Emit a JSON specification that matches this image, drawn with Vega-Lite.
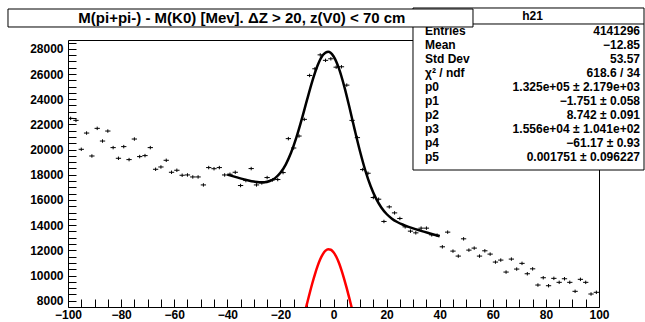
{
  "$schema": "https://vega.github.io/schema/vega-lite/v6.json",
  "width": 531,
  "height": 267,
  "autosize": {"type": "none"},
  "padding": {"left": 68, "top": 40, "right": 46, "bottom": 15},
  "background": "white",
  "config": {"view": {"stroke": "#000", "strokeWidth": 1}, "font": "Liberation Sans"},
  "datasets": {
    "points": [
      {"x": -99, "y": 22477}, {"x": -97, "y": 22319}, {"x": -95, "y": 20021}, {"x": -93, "y": 21312},
      {"x": -91, "y": 19490}, {"x": -89, "y": 21685}, {"x": -87, "y": 20678}, {"x": -85, "y": 21471},
      {"x": -83, "y": 20155}, {"x": -81, "y": 19308}, {"x": -79, "y": 20235}, {"x": -77, "y": 19204},
      {"x": -75, "y": 20837}, {"x": -73, "y": 19442}, {"x": -71, "y": 19521}, {"x": -69, "y": 20155},
      {"x": -67, "y": 18436}, {"x": -65, "y": 18618}, {"x": -63, "y": 19149}, {"x": -61, "y": 18198},
      {"x": -59, "y": 18357}, {"x": -57, "y": 17960}, {"x": -55, "y": 17985}, {"x": -53, "y": 17826},
      {"x": -51, "y": 17826}, {"x": -49, "y": 17192}, {"x": -47, "y": 18570}, {"x": -45, "y": 18480},
      {"x": -43, "y": 18570}, {"x": -41, "y": 17984}, {"x": -39, "y": 18040}, {"x": -37, "y": 18198},
      {"x": -35, "y": 17144}, {"x": -33, "y": 17540}, {"x": -31, "y": 18491}, {"x": -29, "y": 17192},
      {"x": -27, "y": 17350}, {"x": -25, "y": 17778}, {"x": -23, "y": 17588}, {"x": -21, "y": 17620},
      {"x": -19, "y": 18174}, {"x": -17, "y": 20868}, {"x": -15, "y": 20124}, {"x": -13, "y": 21075},
      {"x": -11, "y": 22398}, {"x": -9, "y": 25884}, {"x": -7, "y": 26415}, {"x": -5, "y": 27520},
      {"x": -3, "y": 27085}, {"x": -1, "y": 27208}, {"x": 1, "y": 26542}, {"x": 3, "y": 26574},
      {"x": 5, "y": 25116}, {"x": 7, "y": 22319}, {"x": 9, "y": 20948}, {"x": 11, "y": 18412},
      {"x": 13, "y": 18119}, {"x": 15, "y": 16193}, {"x": 17, "y": 16059}, {"x": 19, "y": 14292},
      {"x": 21, "y": 15449}, {"x": 23, "y": 14973}, {"x": 25, "y": 14529}, {"x": 27, "y": 13864},
      {"x": 29, "y": 13523}, {"x": 31, "y": 13388}, {"x": 33, "y": 13761}, {"x": 35, "y": 13761},
      {"x": 37, "y": 13230}, {"x": 39, "y": 13206}, {"x": 41, "y": 12279}, {"x": 43, "y": 13444},
      {"x": 45, "y": 11938}, {"x": 47, "y": 11542}, {"x": 49, "y": 12913}, {"x": 51, "y": 12017},
      {"x": 53, "y": 12176}, {"x": 55, "y": 11542}, {"x": 57, "y": 11962}, {"x": 59, "y": 11700},
      {"x": 61, "y": 11067}, {"x": 63, "y": 11225}, {"x": 65, "y": 10274}, {"x": 67, "y": 11304},
      {"x": 69, "y": 10512}, {"x": 71, "y": 10964}, {"x": 73, "y": 10139}, {"x": 75, "y": 10530},
      {"x": 77, "y": 9244}, {"x": 79, "y": 9823}, {"x": 81, "y": 9189}, {"x": 83, "y": 9775},
      {"x": 85, "y": 9458}, {"x": 87, "y": 9743}, {"x": 89, "y": 9458}, {"x": 91, "y": 8745},
      {"x": 93, "y": 9696}, {"x": 95, "y": 9458}, {"x": 97, "y": 8531}, {"x": 99, "y": 8666}
    ],
    "fit": [
      {"x": -40, "y": 18010}, {"x": -38, "y": 17889}, {"x": -36, "y": 17770}, {"x": -34, "y": 17655},
      {"x": -32, "y": 17550}, {"x": -30, "y": 17462}, {"x": -28, "y": 17407}, {"x": -26, "y": 17410},
      {"x": -24, "y": 17503}, {"x": -22, "y": 17733}, {"x": -20, "y": 18153}, {"x": -18, "y": 18811},
      {"x": -16, "y": 19743}, {"x": -14, "y": 20948}, {"x": -12, "y": 22377}, {"x": -10, "y": 23920},
      {"x": -8, "y": 25416}, {"x": -6, "y": 26673}, {"x": -4, "y": 27504}, {"x": -2, "y": 27770},
      {"x": 0, "y": 27413}, {"x": 2, "y": 26467}, {"x": 4, "y": 25055}, {"x": 6, "y": 23356},
      {"x": 8, "y": 21563}, {"x": 10, "y": 19849}, {"x": 12, "y": 18335}, {"x": 14, "y": 17090},
      {"x": 16, "y": 16121}, {"x": 18, "y": 15402}, {"x": 20, "y": 14885}, {"x": 22, "y": 14517},
      {"x": 24, "y": 14251}, {"x": 26, "y": 14049}, {"x": 28, "y": 13886}, {"x": 30, "y": 13743},
      {"x": 32, "y": 13611}, {"x": 34, "y": 13485}, {"x": 36, "y": 13361}, {"x": 38, "y": 13238},
      {"x": 40, "y": 13116}
    ],
    "gaus": [
      {"x": -12, "y": 6082}, {"x": -11, "y": 6910}, {"x": -10, "y": 7748}, {"x": -9, "y": 8575},
      {"x": -8, "y": 9367}, {"x": -7, "y": 10098}, {"x": -6, "y": 10746}, {"x": -5, "y": 11287},
      {"x": -4, "y": 11700}, {"x": -3, "y": 11971}, {"x": -2, "y": 12088}, {"x": -1, "y": 12049},
      {"x": 0, "y": 11853}, {"x": 1, "y": 11509}, {"x": 2, "y": 11030}, {"x": 3, "y": 10433},
      {"x": 4, "y": 9740}, {"x": 5, "y": 8974}, {"x": 6, "y": 8163}, {"x": 7, "y": 7328},
      {"x": 8, "y": 6492}, {"x": 9, "y": 5677}
    ],
    "stats": [
      {"row": 0, "name": "Entries", "value": "4141296"},
      {"row": 1, "name": "Mean", "value": "−12.85"},
      {"row": 2, "name": "Std Dev", "value": "53.57"},
      {"row": 3, "name": "χ² / ndf", "value": "618.6 / 34"},
      {"row": 4, "name": "p0", "value": "1.325e+05 ± 2.179e+03"},
      {"row": 5, "name": "p1", "value": "−1.751 ± 0.058"},
      {"row": 6, "name": "p2", "value": "8.742 ± 0.091"},
      {"row": 7, "name": "p3", "value": "1.556e+04 ± 1.041e+02"},
      {"row": 8, "name": "p4", "value": "−61.17 ± 0.93"},
      {"row": 9, "name": "p5", "value": "0.001751 ± 0.096227"}
    ]
  },
  "layer": [
    {
      "encoding": {
        "x": {"field": "x", "type": "quantitative", "scale": {"domain": [-100, 100], "nice": false, "zero": false},
          "axis": {"orient": "bottom", "title": null, "values": [-100,-95,-90,-85,-80,-75,-70,-65,-60,-55,-50,-45,-40,-35,-30,-25,-20,-15,-10,-5,0,5,10,15,20,25,30,35,40,45,50,55,60,65,70,75,80,85,90,95,100],
            "format": "d", "labelExpr": "datum.value % 20 === 0 ? datum.label : ''", "labelOverlap": false, "labelFlush": false,
            "labelFont": "Liberation Sans", "labelFontWeight": "bold", "labelFontSize": 12, "labelColor": "#000", "labelPadding": 10,
            "tickSize": -8, "tickColor": "#000", "domain": false, "grid": false,
            "encode": {"ticks": {"update": {"y2": {"signal": "datum.value % 20 === 0 ? -8 : -4"}}}}}},
        "y": {"field": "y", "type": "quantitative", "scale": {"domain": [7500, 28700], "nice": false, "zero": false},
          "axis": {"orient": "left", "title": null, "values": [8000,8500,9000,9500,10000,10500,11000,11500,12000,12500,13000,13500,14000,14500,15000,15500,16000,16500,17000,17500,18000,18500,19000,19500,20000,20500,21000,21500,22000,22500,23000,23500,24000,24500,25000,25500,26000,26500,27000,27500,28000,28500],
            "format": "d", "labelExpr": "datum.value % 2000 === 0 ? datum.label : ''", "labelOverlap": false, "labelFlush": false,
            "labelFont": "Liberation Sans", "labelFontWeight": "bold", "labelFontSize": 12, "labelColor": "#000", "labelPadding": 13,
            "tickSize": -8, "tickColor": "#000", "domain": false, "grid": false,
            "encode": {"ticks": {"update": {"x2": {"signal": "datum.value % 2000 === 0 ? 16 : 8"}}}}}}
      },
      "layer": [
        {
          "data": {"name": "points"},
          "mark": {"type": "point", "shape": "M-1,0L1,0M0,-0.65L0,0.65", "size": 28, "filled": false, "stroke": "#000", "strokeWidth": 1, "opacity": 1}
        },
        {
          "data": {"name": "fit"},
          "mark": {"type": "line", "color": "#000", "strokeWidth": 2.5, "interpolate": "monotone"}
        },
        {
          "data": {"name": "gaus"},
          "mark": {"type": "line", "color": "#ff0000", "strokeWidth": 2.5, "interpolate": "monotone", "clip": true}
        }
      ]
    },
    {
      "layer": [
        {
          "data": {"values": [{}]},
          "mark": {"type": "rect", "fill": "white", "stroke": "#000", "strokeWidth": 1},
          "encoding": {
            "x": {"datum": 29.94, "type": "quantitative", "scale": {"domain": [-100, 100], "nice": false, "zero": false}, "axis": null},
            "x2": {"datum": 116.95},
            "y": {"datum": -1.643, "type": "quantitative", "scale": {"domain": [0.643, 19.714], "reverse": true, "nice": false, "zero": false}, "axis": null},
            "y2": {"datum": 9.929}
          }
        },
        {
          "data": {"values": [{}]},
          "mark": {"type": "rule", "stroke": "#000", "strokeWidth": 1},
          "encoding": {
            "x": {"datum": 29.94, "type": "quantitative", "scale": {"domain": [-100, 100], "nice": false, "zero": false}, "axis": null},
            "x2": {"datum": 116.95},
            "y": {"datum": -0.5, "type": "quantitative", "scale": {"domain": [0.643, 19.714], "reverse": true, "nice": false, "zero": false}, "axis": null}
          }
        },
        {
          "data": {"values": [{"label": "h21"}]},
          "mark": {"type": "text", "font": "Liberation Sans", "fontWeight": "bold", "fontSize": 12, "align": "center", "baseline": "middle", "color": "#000"},
          "encoding": {
            "x": {"datum": 75, "type": "quantitative", "scale": {"domain": [-100, 100], "nice": false, "zero": false}, "axis": null},
            "y": {"datum": -1.071, "type": "quantitative", "scale": {"domain": [0.643, 19.714], "reverse": true, "nice": false, "zero": false}, "axis": null},
            "text": {"field": "label"}
          }
        },
        {
          "data": {"name": "stats"},
          "mark": {"type": "text", "font": "Liberation Sans", "fontWeight": "bold", "fontSize": 12, "align": "left", "baseline": "middle", "color": "#000"},
          "encoding": {
            "x": {"datum": 34.46, "type": "quantitative", "scale": {"domain": [-100, 100], "nice": false, "zero": false}, "axis": null},
            "y": {"field": "row", "type": "quantitative", "scale": {"domain": [0.643, 19.714], "reverse": true, "nice": false, "zero": false}, "axis": null},
            "text": {"field": "name"}
          }
        },
        {
          "data": {"name": "stats"},
          "mark": {"type": "text", "font": "Liberation Sans", "fontWeight": "bold", "fontSize": 12, "align": "right", "baseline": "middle", "color": "#000"},
          "encoding": {
            "x": {"datum": 115.44, "type": "quantitative", "scale": {"domain": [-100, 100], "nice": false, "zero": false}, "axis": null},
            "y": {"field": "row", "type": "quantitative", "scale": {"domain": [0.643, 19.714], "reverse": true, "nice": false, "zero": false}, "axis": null},
            "text": {"field": "value"}
          }
        },
        {
          "data": {"values": [{}]},
          "mark": {"type": "rect", "fill": "white", "stroke": "#000", "strokeWidth": 1},
          "encoding": {
            "x": {"datum": -122.6, "type": "quantitative", "scale": {"domain": [-100, 100], "nice": false, "zero": false}, "axis": null},
            "x2": {"datum": 52.54},
            "y": {"datum": -1.571, "type": "quantitative", "scale": {"domain": [0.643, 19.714], "reverse": true, "nice": false, "zero": false}, "axis": null},
            "y2": {"datum": -0.286}
          }
        },
        {
          "data": {"values": [{"label": "M(pi+pi-) - M(K0) [Mev]. ΔZ > 20, z(V0) < 70 cm"}]},
          "mark": {"type": "text", "font": "Liberation Sans", "fontWeight": "bold", "fontSize": 15, "align": "center", "baseline": "middle", "color": "#000"},
          "encoding": {
            "x": {"datum": -34.5, "type": "quantitative", "scale": {"domain": [-100, 100], "nice": false, "zero": false}, "axis": null},
            "y": {"datum": -0.929, "type": "quantitative", "scale": {"domain": [0.643, 19.714], "reverse": true, "nice": false, "zero": false}, "axis": null},
            "text": {"field": "label"}
          }
        }
      ]
    }
  ],
  "resolve": {"scale": {"y": "independent", "x": "independent"}}
}
